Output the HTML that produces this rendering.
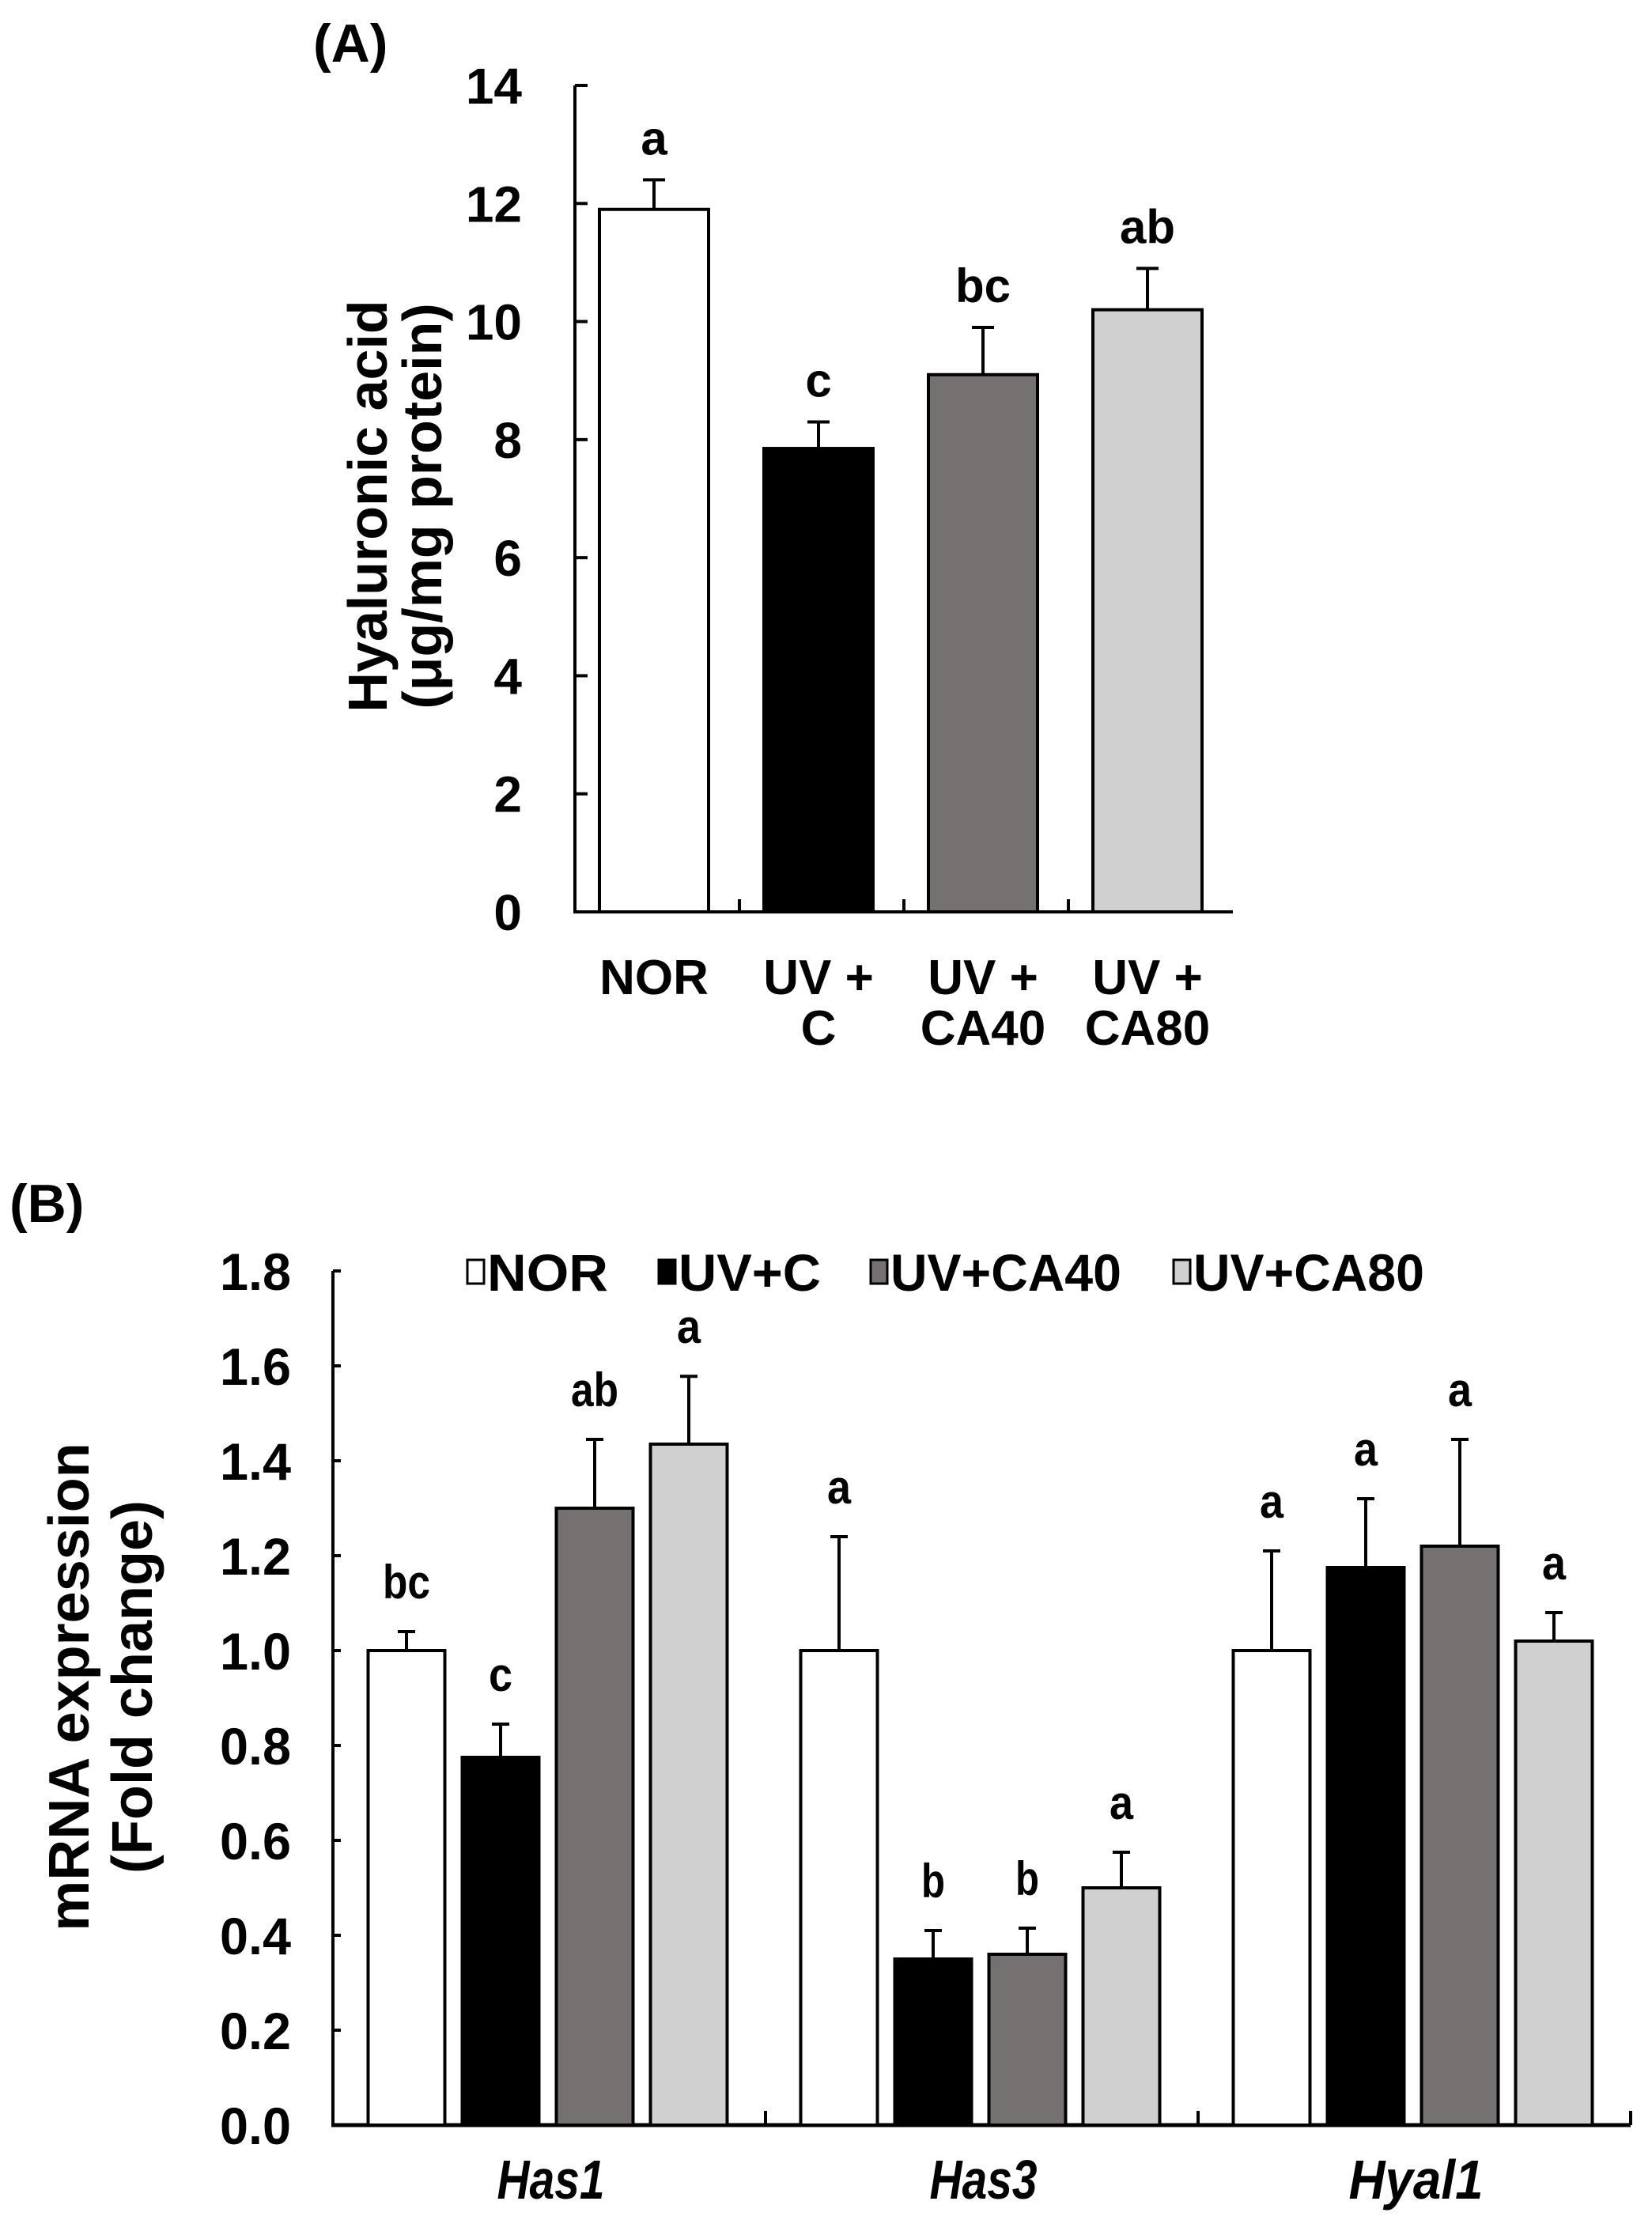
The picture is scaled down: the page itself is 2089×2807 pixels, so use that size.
<!DOCTYPE html>
<html><head><meta charset="utf-8"><style>
html,body{margin:0;padding:0;background:#fff;}
svg{display:block;font-family:"Liberation Sans",Arial,sans-serif;font-weight:bold;}
</style></head><body>
<svg id="fig" width="2089" height="2807" viewBox="0 0 2089 2807" xmlns="http://www.w3.org/2000/svg">
<text x="396" y="78" font-size="68">(A)</text>
<g id="chartA"></g>
<text x="12" y="1545" font-size="68">(B)</text>
<g id="chartB"></g>
</svg>
<script>
const catsA = ["NOR","UV +|C","UV +|CA40","UV +|CA80"];
const valsA = [11.9, 7.85, 9.1, 10.2];
const errA = [0.5, 0.45, 0.8, 0.7];
const lettersA = ["a","c","bc","ab"];
const ticksA = [0,2,4,6,8,10,12,14];

const groupsB = ["Has1","Has3","Hyal1"];
const seriesB = ["NOR","UV+C","UV+CA40","UV+CA80"];
const valsNOR = [1.0, 1.0, 1.0];
const valsUVC = [0.775, 0.35, 1.175];
const valsCA40 = [1.30, 0.36, 1.22];
const valsCA80 = [1.435, 0.50, 1.02];
const errNOR = [0.04, 0.24, 0.21];
const errUVC = [0.07, 0.06, 0.145];
const errCA40 = [0.145, 0.055, 0.225];
const errCA80 = [0.143, 0.075, 0.06];
const lettersNOR = ["bc","a","a"];
const lettersUVC = ["c","b","a"];
const lettersCA40 = ["ab","b","a"];
const lettersCA80 = ["a","a","a"];
const ticksB = [0,0.2,0.4,0.6,0.8,1.0,1.2,1.4,1.6,1.8];

const fills = ["#ffffff","#000000","#757170","#d0d0d0"];
const NS = "http://www.w3.org/2000/svg";
function mk(parent, tag, attrs, txt){
  const e = document.createElementNS(NS, tag);
  for (const k in attrs) e.setAttribute(k, attrs[k]);
  if (txt !== undefined) e.textContent = txt;
  parent.appendChild(e);
  return e;
}

// ---------- Chart A ----------
(function(){
  const g = document.getElementById('chartA');
  const x0 = 727, x1 = 1559, yTop = 108, yZero = 1153, yMax = 14;
  const y = v => yZero - v / yMax * (yZero - yTop);
  const cw = (x1 - x0) / catsA.length, bw = 138;
  let e = mk(g,'line',{x1:x0,y1:yTop,x2:x0,y2:yZero,stroke:'#000','stroke-width':4});
   
  e = mk(g,'line',{x1:x0-2,y1:yZero,x2:x1,y2:yZero,stroke:'#000','stroke-width':4});
   
  ticksA.forEach(t=>{
    const l = mk(g,'line',{x1:x0,y1:y(t),x2:x0+16,y2:y(t),stroke:'#000','stroke-width':4});
     
    const tx = mk(g,'text',{x:660,y:y(t)+23,'font-size':64,'text-anchor':'end'},String(t));
     
  });
  for (let i=1;i<catsA.length;i++){
    const l = mk(g,'line',{x1:x0+i*cw,y1:yZero,x2:x0+i*cw,y2:yZero-16,stroke:'#000','stroke-width':4});
     
  }
  catsA.forEach((c,i)=>{
    const cx = x0 + cw*(i+0.5) - 4;
    const r = mk(g,'rect',{x:cx-bw/2,y:y(valsA[i]),width:bw,height:yZero-y(valsA[i]),fill:fills[i],stroke:'#000','stroke-width':4});
     
    const ey = y(valsA[i]+errA[i]);
    const el = mk(g,'path',{d:`M${cx} ${y(valsA[i])} V${ey} M${cx-14} ${ey} H${cx+14}`,stroke:'#000','stroke-width':4,fill:'none'});
     
    const lt = mk(g,'text',{x:cx,y:ey-32,'font-size':60,'text-anchor':'middle'},lettersA[i]);
     
    c.split('|').forEach((ln,k)=>{
      const t = mk(g,'text',{x:cx,y:1257+k*64,'font-size':62,'text-anchor':'middle'},ln);
       
    });
  });
  const yt = mk(g,'text',{transform:'translate(489,640) rotate(-90)','font-size':70,'text-anchor':'middle'},'Hyaluronic acid');
   
  const yt2 = mk(g,'text',{transform:'translate(558,640) rotate(-90)','font-size':70,'text-anchor':'middle'},'(μg/mg protein)');
   
})();

// ---------- Chart B ----------
(function(){
  const g = document.getElementById('chartB');
  const x0 = 421, x1 = 2062, yTop = 1607, yZero = 2687, yMax = 1.8;
  const y = v => yZero - v / yMax * (yZero - yTop);
  const gw = (x1 - x0) / groupsB.length, bw = 97, step = 119;
  const vals = [valsNOR, valsUVC, valsCA40, valsCA80];
  const errs = [errNOR, errUVC, errCA40, errCA80];
  const lets = [lettersNOR, lettersUVC, lettersCA40, lettersCA80];
  let e = mk(g,'line',{x1:x0,y1:yTop,x2:x0,y2:yZero,stroke:'#000','stroke-width':4});
   
  e = mk(g,'line',{x1:x0-2,y1:yZero,x2:x1,y2:yZero,stroke:'#000','stroke-width':5});
   
  ticksB.forEach(t=>{
    const l = mk(g,'line',{x1:x0,y1:y(t),x2:x0+10,y2:y(t),stroke:'#000','stroke-width':4});
     
    const tx = mk(g,'text',{x:368,y:y(t)+24,'font-size':66,'text-anchor':'end',textLength:90,lengthAdjust:'spacingAndGlyphs'},t.toFixed(1));
     
  });
  for (let i=1;i<=groupsB.length;i++){
    const l = mk(g,'line',{x1:x0+i*gw,y1:yZero,x2:x0+i*gw,y2:yZero-18,stroke:'#000','stroke-width':4});
     
  }
  groupsB.forEach((gn,j)=>{
    const gc = x0 + gw*(j+0.5);
    seriesB.forEach((s,i)=>{
      const cx = gc + (i-1.5)*step - 2;
      const v = vals[i][j];
      const r = mk(g,'rect',{x:cx-bw/2,y:y(v),width:bw,height:yZero-y(v),fill:fills[i],stroke:'#000','stroke-width':4});
       
      const ey = y(v+errs[i][j]);
      const el = mk(g,'path',{d:`M${cx} ${y(v)} V${ey} M${cx-11} ${ey} H${cx+11}`,stroke:'#000','stroke-width':4,fill:'none'});
       
      const lt = mk(g,'text',{x:cx,y:ey-42,'font-size':60,'text-anchor':'middle','textLength':lets[i][j].length*30,lengthAdjust:'spacingAndGlyphs'},lets[i][j]);
       
    });
    const t = mk(g,'text',{x:gc+2,y:2780,'font-size':70,'font-style':'italic','text-anchor':'middle',textLength:gn.length*34,lengthAdjust:'spacingAndGlyphs'},gn);
     
  });
  const legX = [591, 833, 1101, 1484];
  const legW = [153, 180, 292, 292];
  seriesB.forEach((s,i)=>{
    const b = mk(g,'rect',{x:legX[i],y:1593,width:21,height:30,fill:fills[i],stroke:'#000','stroke-width':3});
     
    const t = mk(g,'text',{x:legX[i]+25,y:1632,'font-size':66,textLength:legW[i],lengthAdjust:'spacingAndGlyphs'},s);
     
  });
  const yt = mk(g,'text',{transform:'translate(112,2133) rotate(-90)','font-size':72,'text-anchor':'middle'},'mRNA expression');
   
  const yt2 = mk(g,'text',{transform:'translate(192,2133) rotate(-90)','font-size':72,'text-anchor':'middle'},'(Fold change)');
   
})();
</script>
</body></html>
